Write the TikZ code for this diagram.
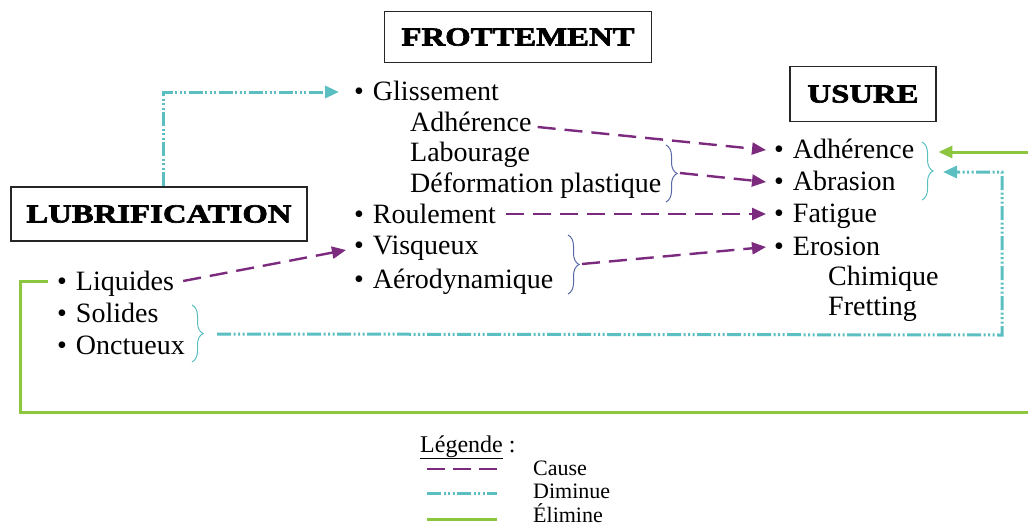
\documentclass[tikz,border=0pt]{standalone}
\usepackage{fontspec}
\setmainfont{Liberation Serif}
\newfontfamily\headfont[FakeStretch=1.26,BoldFeatures={FakeBold=2.6}]{Liberation Serif}
\usetikzlibrary{arrows.meta,decorations.pathreplacing}
\definecolor{cpurple}{HTML}{7B2A7E}
\definecolor{ccyan}{HTML}{5BBFC2}
\definecolor{cgreen}{HTML}{8CC63E}
\definecolor{cbrace}{HTML}{5A68A6}
\tikzset{
  item/.style={anchor=base west,inner sep=0pt,font=\fontsize{28}{32}\selectfont},
  legtext/.style={anchor=base west,inner sep=0pt,font=\fontsize{22}{26}\selectfont},
  headbox/.style={draw=black!85,line width=1.3pt,inner sep=0pt,font=\headfont\bfseries\fontsize{26}{30}\selectfont},
  tip/.style={-{Triangle[length=14pt,width=12pt]}},
  causeline/.style={draw=cpurple,line width=2.4pt,dash pattern=on 18pt off 9pt},
  diminline/.style={draw=ccyan,line width=3pt,dash pattern=on 14pt off 2.5pt on 2pt off 2.5pt on 2pt off 2.5pt on 2pt off 2.5pt},
  elimline/.style={draw=cgreen,line width=3pt},
  bracestyle/.style={decorate,decoration={brace,amplitude=11pt},line width=1pt}
}
\begin{document}
\begin{tikzpicture}[x=1pt,y=-1pt]
\useasboundingbox (0,0) rectangle (1028,525);
\clip (0,0) rectangle (1028,525);
% headings
\node[headbox,minimum width=267pt,minimum height=51pt] (frot) at (518,37) {FROTTEMENT};
\node[headbox,minimum width=146pt,minimum height=55pt] (usure) at (863,94) {USURE};
\node[headbox,minimum width=296pt,minimum height=54pt] (lub) at (159,214) {LUBRIFICATION};
% middle column
\node[item] (glis) at (354,100) {\textbullet\hspace{9pt}Glissement};
\node[item] (madh) at (410,131) {Adhérence};
\node[item] (labo) at (410,161) {Labourage};
\node[item] (defo) at (410,192) {Déformation plastique};
\node[item] (roul) at (354,223) {\textbullet\hspace{9pt}Roulement};
\node[item] (visq) at (354,254) {\textbullet\hspace{9pt}Visqueux};
\node[item] (aero) at (354,288) {\textbullet\hspace{9pt}Aérodynamique};
% left column
\node[item] (liq) at (57,290) {\textbullet\hspace{9pt}Liquides};
\node[item] (sol) at (57,322) {\textbullet\hspace{9pt}Solides};
\node[item] (onc) at (57,354) {\textbullet\hspace{9pt}Onctueux};
% right column
\node[item] (uadh) at (774,158) {\textbullet\hspace{9pt}Adhérence};
\node[item] (abr) at (774,190) {\textbullet\hspace{9pt}Abrasion};
\node[item] (fat) at (774,222) {\textbullet\hspace{9pt}Fatigue};
\node[item] (ero) at (774,255) {\textbullet\hspace{9pt}Erosion};
\node[item] (chim) at (828,285) {Chimique};
\node[item] (fret) at (828,315) {Fretting};
% braces
\draw[bracestyle,cbrace] (666,145) -- (666,202);
\coordinate (b1) at (680,173);
\draw[bracestyle,cbrace] (568,235) -- (568,294);
\coordinate (b2) at (582,264);
\draw[bracestyle,ccyan] (192,305) -- (192,362);
\coordinate (b3) at (206,334);
\draw[bracestyle,ccyan] (922,142) -- (922,200);
\coordinate (b4) at (936,172);
\coordinate (cR) at (1002,335);
\coordinate (gL) at (20,412);
\coordinate (gR) at (1045,412);
% cause arrows
\draw[causeline,tip] ([shift={(6pt,4pt)}]madh.base east) -- ([shift={(-8pt,8pt)}]uadh.base west);
\draw[causeline,tip] (b1) -- ([shift={(-8pt,8pt)}]abr.base west);
\draw[causeline,tip] ([shift={(10pt,9pt)}]roul.base east) -- ([shift={(-8pt,8pt)}]fat.base west);
\draw[causeline,tip] (b2) -- ([shift={(-8pt,8pt)}]ero.base west);
\draw[causeline,tip] ([shift={(9pt,9pt)}]liq.base east) -- ([shift={(-8pt,4pt)}]visq.base west);
% diminue arrows
\draw[diminline,tip] ([xshift=4pt]lub.north) |- ([shift={(-15pt,8pt)}]glis.base west);
\draw[diminline,tip] ([xshift=11pt]b3) -- (cR) |- ([xshift=7pt]b4);
% elimine arrow
\draw[elimline,tip] ([shift={(-9pt,9pt)}]liq.base west) -| (gL) -- (gR) |- ([shift={(24pt,6pt)}]uadh.base east);
% legend
\node[anchor=base west,inner sep=0pt,font=\fontsize{24}{28}\selectfont] (leg) at (420,452) {\underline{Légende} :};
\node[legtext] (lc) at (533,475) {Cause};
\node[legtext] (ld) at (533,498) {Diminue};
\node[legtext] (le) at (533,522) {Élimine};
\draw[causeline,dash pattern=on 18pt off 8pt] ([shift={(-106pt,6pt)}]lc.base west) -- ++(70,0);
\draw[diminline] ([shift={(-106pt,5pt)}]ld.base west) -- ++(70,0);
\draw[elimline] ([shift={(-106pt,3pt)}]le.base west) -- ++(70,0);
\end{tikzpicture}
\end{document}
